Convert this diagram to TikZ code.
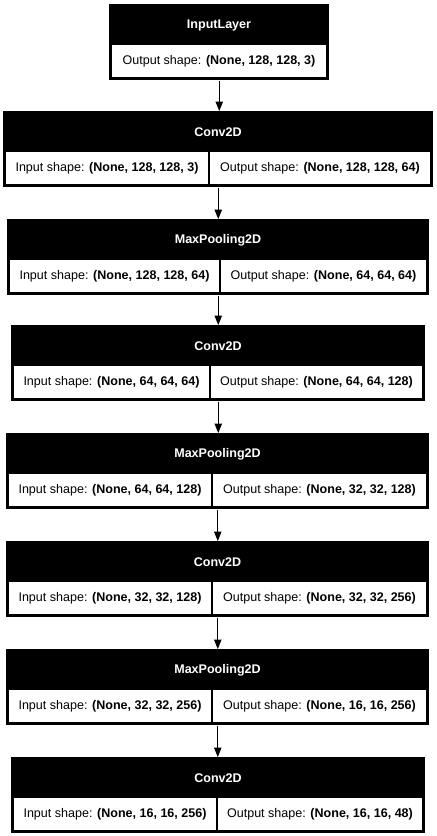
\documentclass[tikz,border=0pt]{standalone}
\usepackage{fontspec}
\setmainfont{Liberation Sans}
\usetikzlibrary{arrows.meta}

\tikzset{
	layerbox/.style = {fill = black, anchor = north west, minimum height = 57pt, inner sep = 0},
	cellbox/.style = {fill = white, minimum height = 24pt, inner sep = 0, font = \fontsize{9.4}{11}\selectfont},
	titletext/.style = {text = white, inner sep = 0, font = \fontsize{9.4}{11}\selectfont\bfseries},
	flow/.style = {-{Triangle[length = 7pt, width = 5.5pt]}, line width = .75pt},
}

% name, left, right, top, split, title, input shape, output shape
\newcommand{\layer}[8]{
	\node [layerbox, minimum width = {(#3-#2)*.75pt}] (#1) at (#2, #4) {};
	\node [titletext] (#1t) at ({(#2+#3)/2}, #4+21) {#6};
	\node [cellbox, anchor = north west, minimum width = {(#5-#2-4.5)*.75pt}] (#1i) at (#2+3, #4+41) {Input shape: \textbf{#7}};
	\node [cellbox, anchor = north east, minimum width = {(#3-#5-4.5)*.75pt}] (#1o) at (#3-3, #4+41) {Output shape: \textbf{#8}};
}

\begin{document}
\begin{tikzpicture}[x = .75pt, y = -.75pt]
	\useasboundingbox (0, 0) rectangle (436, 836);

	\node [layerbox, minimum width = {220*.75pt}] (l1) at (109, 4) {};
	\node [titletext] (l1t) at (219, 25) {InputLayer};
	\node [cellbox, anchor = north, minimum width = {214*.75pt}] (l1o) at (219, 45) {Output shape: \textbf{(None, 128, 128, 3)}};

	\layer{l2}{3}{433}{111}{209}{Conv2D}{(None, 128, 128, 3)}{(None, 128, 128, 64)}
	\layer{l3}{7}{429}{219}{220}{MaxPooling2D}{(None, 128, 128, 64)}{(None, 64, 64, 64)}
	\layer{l4}{11}{425}{325}{210}{Conv2D}{(None, 64, 64, 64)}{(None, 64, 64, 128)}
	\layer{l5}{6}{429}{433}{212}{MaxPooling2D}{(None, 64, 64, 128)}{(None, 32, 32, 128)}
	\layer{l6}{6}{429}{541}{212}{Conv2D}{(None, 32, 32, 128)}{(None, 32, 32, 256)}
	\layer{l7}{6}{429}{649}{212}{MaxPooling2D}{(None, 32, 32, 256)}{(None, 16, 16, 256)}
	\layer{l8}{11}{425}{757}{217}{Conv2D}{(None, 16, 16, 256)}{(None, 16, 16, 48)}

	\draw [flow] (l1.south) -- (l1.south |- l2.north);
	\draw [flow] (l2.south) -- (l2.south |- l3.north);
	\draw [flow] (l3.south) -- (l3.south |- l4.north);
	\draw [flow] (l4.south) -- (l4.south |- l5.north);
	\draw [flow] (l5.south) -- (l5.south |- l6.north);
	\draw [flow] (l6.south) -- (l6.south |- l7.north);
	\draw [flow] (l7.south) -- (l7.south |- l8.north);
\end{tikzpicture}
\end{document}
